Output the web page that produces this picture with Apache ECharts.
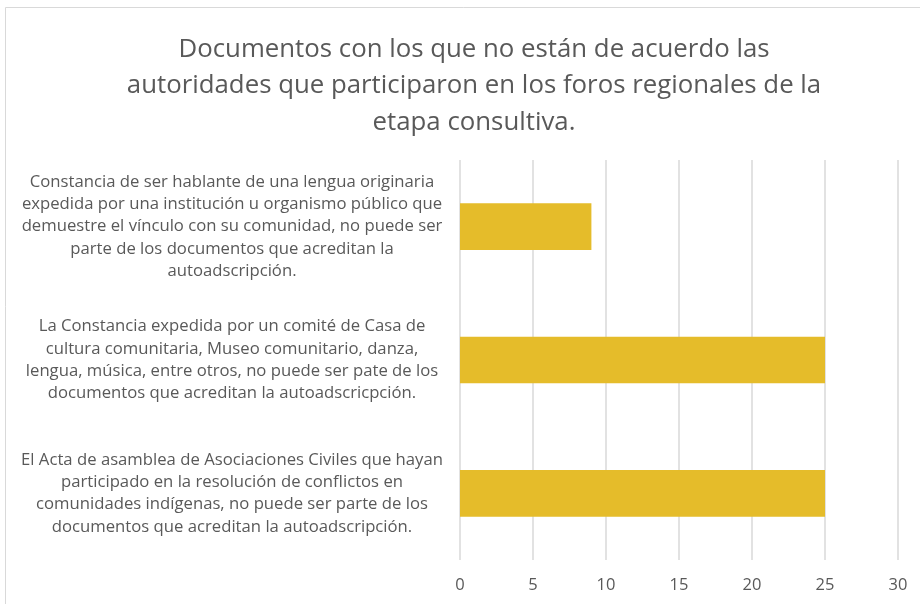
<!DOCTYPE html>
<html>
<head>
<meta charset="utf-8">
<script src="https://cdn.jsdelivr.net/npm/echarts@6/dist/echarts.min.js"></script>
<style>
  html, body { margin: 0; padding: 0; background: #fff; }
  #chart { width: 920px; height: 604px; }
</style>
</head>
<body>
<div id="chart"></div>
<script>
const chartTitle = 'Documentos con los que no están de acuerdo las\nautoridades que participaron en los foros regionales de la\netapa consultiva.';

// categories, top to bottom
const categories = [
  'Constancia de ser hablante de una lengua originaria\nexpedida por una institución u organismo público que\ndemuestre el vínculo con su comunidad, no puede ser\nparte de los documentos que acreditan la\nautoadscripción.',
  'La Constancia expedida por un comité de Casa de\ncultura comunitaria, Museo comunitario, danza,\nlengua, música, entre otros, no puede ser pate de los\ndocumentos que acreditan la autoadscricpción.',
  'El Acta de asamblea de Asociaciones Civiles que hayan\nparticipado en la resolución de conflictos en\ncomunidades indígenas, no puede ser parte de los\ndocumentos que acreditan la autoadscripción.'
];
const values = [9, 25, 25];

const textColor = '#595959';
const fontFamily = '"Open Sans", Lato, sans-serif';

const chart = echarts.init(document.getElementById('chart'));

const option = {
  animation: false,
  textStyle: { fontFamily: fontFamily },
  title: {
    text: chartTitle,
    left: 469,
    top: 26,
    textAlign: 'center',
    textStyle: {
      fontFamily: fontFamily,
      fontSize: 25.8,
      fontWeight: 'normal',
      color: textColor,
      lineHeight: 36.5,
      align: 'center'
    }
  },
  graphic: [{
    type: 'rect',
    shape: { x: 5.5, y: 7.5, width: 940, height: 620 },
    style: { fill: null, stroke: '#d9d9d9', lineWidth: 1 },
    silent: true
  }],
  grid: {
    left: 460,
    right: 22,
    top: 160,
    bottom: 44,
    containLabel: false
  },
  xAxis: {
    type: 'value',
    min: 0,
    max: 30,
    interval: 5,
    axisLine: { show: false },
    axisTick: { show: false },
    axisLabel: {
      color: textColor,
      fontSize: 16.5,
      fontFamily: fontFamily,
      margin: 17
    },
    splitLine: { lineStyle: { color: '#d9d9d9', width: 1.5 } }
  },
  yAxis: {
    type: 'category',
    inverse: true,
    data: categories,
    axisLine: { show: false },
    axisTick: { show: false },
    axisLabel: {
      color: textColor,
      fontSize: 16.7,
      fontFamily: fontFamily,
      lineHeight: 22.3,
      align: 'center',
      margin: 228
    }
  },
  series: [{
    type: 'bar',
    data: values,
    barCategoryGap: '65%',
    itemStyle: { color: '#E5BC2A' }
  }]
};

chart.setOption(option);
</script>
</body>
</html>
